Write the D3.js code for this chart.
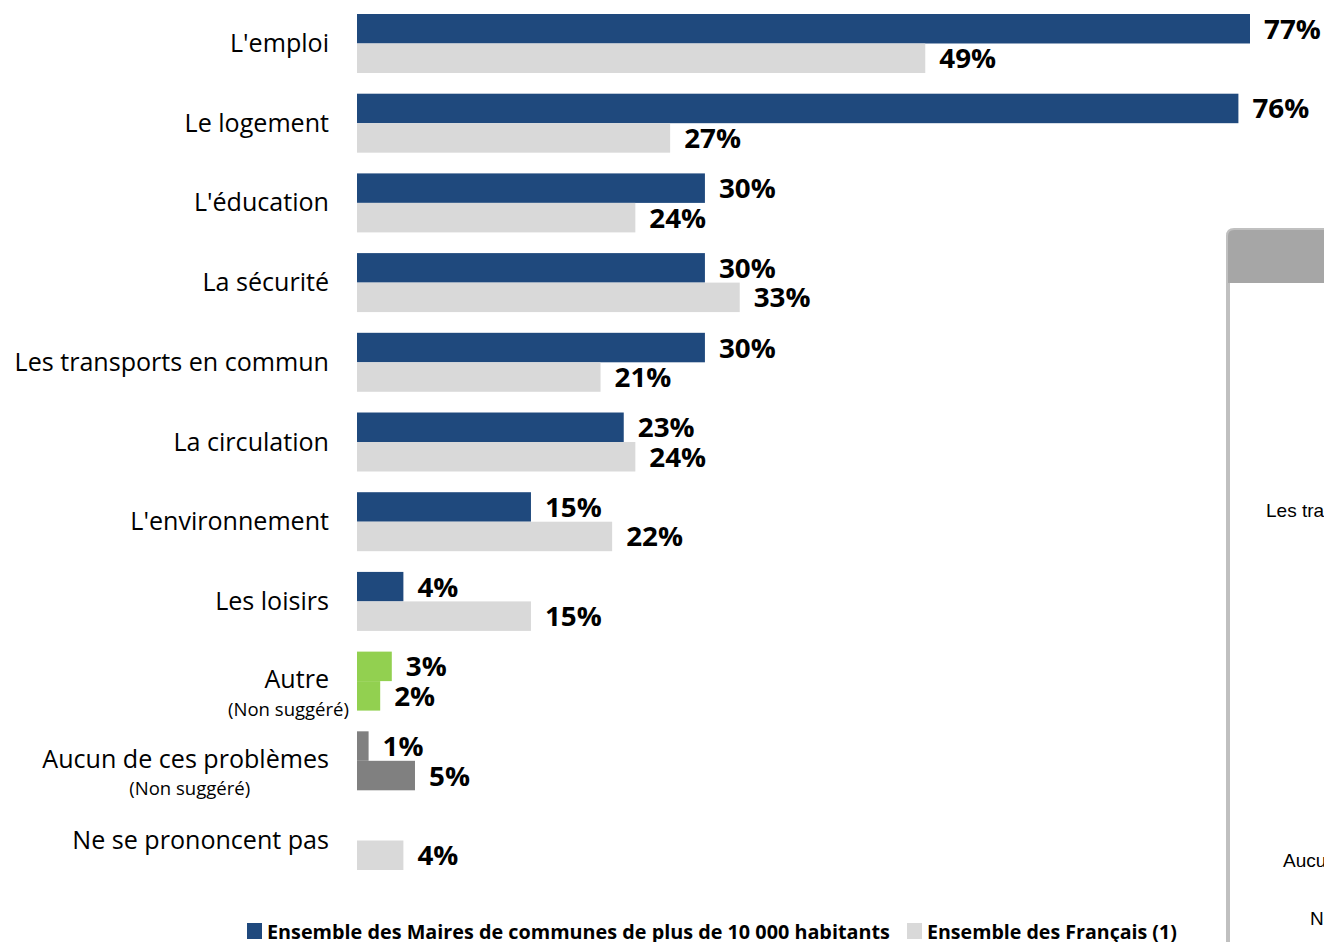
<!DOCTYPE html>
<html><head><meta charset="utf-8">
<script src="https://cdn.jsdelivr.net/npm/d3@7"></script>
<style>
html,body{margin:0;padding:0;background:#fff;overflow:hidden}
svg{display:block}
</style></head>
<body>
<svg id="chart" width="1324" height="942"></svg>
<script>
// ---- data ----
const categories = ["L'emploi","Le logement","L'éducation","La sécurité","Les transports en commun","La circulation","L'environnement","Les loisirs","Autre","Aucun de ces problèmes","Ne se prononcent pas"];
const subLabels = ["","","","","","","","","(Non suggéré)","(Non suggéré)",""];
const maires = [77,76,30,30,30,23,15,4,3,1,null];
const francais = [49,27,24,33,21,24,22,15,2,5,4];
const seriesNames = ["Ensemble des Maires de communes de plus de 10 000 habitants","Ensemble des Français (1)"];
const panelLabels = ["Les transports en commun","Aucun de ces problèmes","Ne se prononcent pas"];

// ---- styles ----
const cBlue = "#1F497D", cGray = "#D9D9D9", cGreen = "#92D050", cDark = "#808080";
const special = {"Autre": cGreen, "Aucun de ces problèmes": cDark};
const labelFont = "'Open Sans', 'Noto Sans', sans-serif";

const svg = d3.select("#chart");

// ---- right clipped panel ----
const panel = svg.append("g");
panel.append("path")
  .attr("d", "M1228,1000 L1228,236 Q1228,230 1234,230 L1400,230 L1400,1000 Z")
  .attr("fill", "#fff").attr("stroke", "#C0C0C0").attr("stroke-width", 4);
panel.append("path")
  .attr("d", "M1228,283 L1228,236 Q1228,230 1234,230 L1400,230 L1400,283 Z")
  .attr("fill", "#A6A6A6");
const panelPos = [[1266,517],[1283,867],[1310,925]];
panel.selectAll("text.pl").data(panelLabels).join("text")
  .attr("class","pl")
  .attr("x",(d,i)=>panelPos[i][0]).attr("y",(d,i)=>panelPos[i][1])
  .attr("font-family","'Liberation Sans', Arial, sans-serif")
  .attr("font-size",19).attr("fill","#000").text(d=>d);

// ---- scales ----
const x = d3.scaleLinear().domain([0,77]).range([357,1250]);
const y = d3.scaleBand().domain(categories).range([14,870]).paddingInner(0.26).paddingOuter(0);
const inner = d3.scaleBand().domain(["m","f"]).range([0,y.bandwidth()]);

const rows = categories.map((c,i)=>({cat:c, sub:subLabels[i], m:maires[i], f:francais[i]}));

const g = svg.append("g");
rows.forEach(r=>{
  const bars = [{k:"m", v:r.m, col: special[r.cat] || cBlue},{k:"f", v:r.f, col: special[r.cat] || cGray}];
  bars.forEach(b=>{
    if (b.v==null) return;
    const y0 = y(r.cat)+inner(b.k);
    g.append("rect")
      .attr("x", x(0)).attr("y", y0)
      .attr("width", x(b.v)-x(0)).attr("height", inner.bandwidth())
      .attr("fill", b.col);
    g.append("text")
      .attr("transform", `translate(${x(b.v)+14},${y0+inner.bandwidth()/2+10}) scale(1.03,1)`)
      .attr("font-family", labelFont).attr("font-weight","bold")
      .attr("font-size", 27).attr("fill","#000")
      .text(b.v + "%");
  });
  // category labels
  const cy = y(r.cat)+y.bandwidth()/2;
  const lx = 329;
  const t = g.append("text")
    .attr("transform", `translate(${lx},${cy + (r.sub ? 7 : 8.5)}) scale(0.965,1)`)
    .attr("text-anchor","end")
    .attr("font-family", labelFont).attr("font-size", 26).attr("fill","#000")
    .text(r.cat);
  if (r.sub) {
    const w = t.node().getComputedTextLength()*0.965;
    const st = g.append("text")
      .attr("text-anchor","middle")
      .attr("font-family", labelFont).attr("font-size", 18).attr("fill","#000")
      .text(r.sub);
    const sw = st.node().getComputedTextLength()*1.03;
    const sc = Math.min(lx - w/2 + 4, lx + 20 - sw/2);
    st.attr("transform", `translate(${sc},${cy + 34.5}) scale(1.03,1)`);
  }
});

// ---- legend ----
const leg = svg.append("g");
const legX = [247, 907];
const legCol = [cBlue, cGray];
const legScale = [0.99, 0.98];
seriesNames.forEach((s,i)=>{
  leg.append("rect").attr("x",legX[i]).attr("y",923).attr("width",15).attr("height",16).attr("fill",legCol[i]);
  leg.append("text")
    .attr("transform",`translate(${legX[i]+20},${939}) scale(${legScale[i]},1)`)
    .attr("font-family", labelFont).attr("font-weight","bold")
    .attr("font-size",20).attr("fill","#000").text(s);
});
</script>
</body></html>
